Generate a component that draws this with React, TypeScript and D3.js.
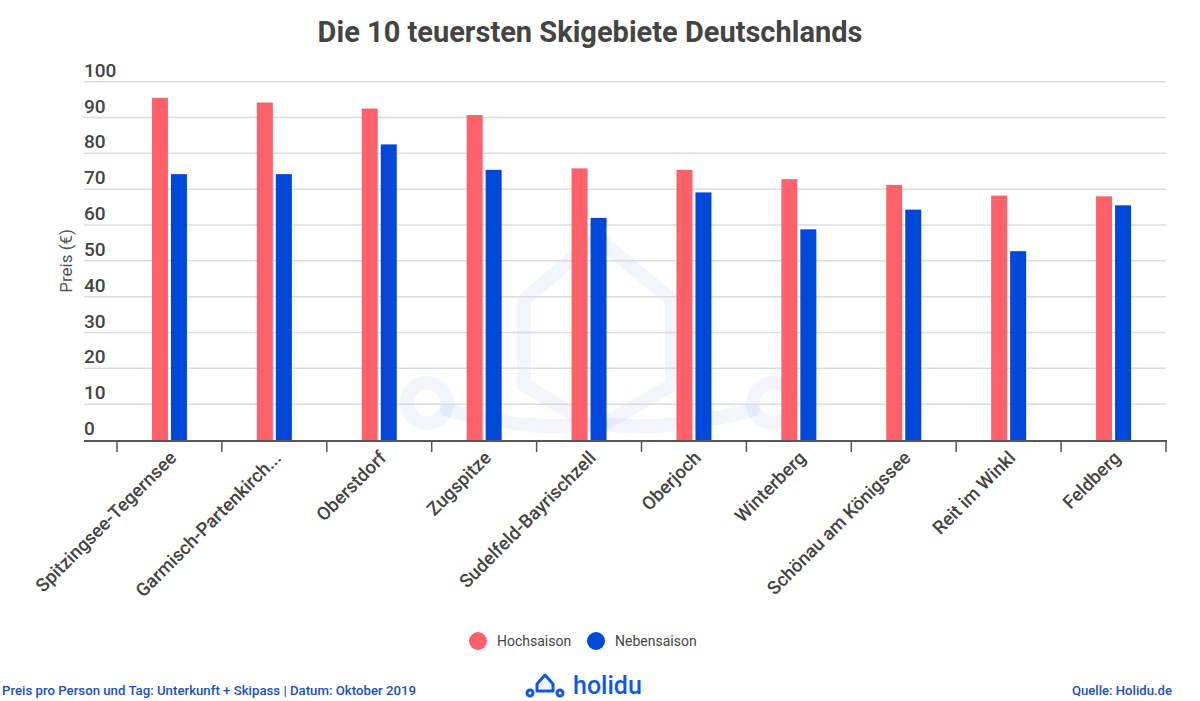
import React from "react";
import * as d3 from "d3";

const categories = [
  "Spitzingsee-Tegernsee",
  "Garmisch-Partenkirch...",
  "Oberstdorf",
  "Zugspitze",
  "Sudelfeld-Bayrischzell",
  "Oberjoch",
  "Winterberg",
  "Schönau am Königssee",
  "Reit im Winkl",
  "Feldberg",
];
const hochsaison = [95.5, 94.2, 92.5, 90.7, 75.8, 75.4, 72.8, 71.2, 68.2, 68.0];
const nebensaison = [74.2, 74.2, 82.5, 75.4, 62.0, 69.1, 58.8, 64.3, 52.7, 65.5];
const yTicks = [0, 10, 20, 30, 40, 50, 60, 70, 80, 90, 100];
const seriesNames = ["Hochsaison", "Nebensaison"];
const colors = ["#FF616B", "#0048D9"];

const W = 1200;
const H = 701;
const FONT = "Roboto, 'Noto Sans', sans-serif";

export default function App() {
  const x = d3.scaleBand<string>().domain(categories).range([117, 1166]).padding(0);
  const y = d3.scaleLinear().domain([0, 100]).range([440, 81.7]);
  const gridX0 = 84;
  const gridX1 = 1166;
  const barW = 16;
  const gap = 3;
  const boundaries = [...categories.map((c) => x(c) as number), 1166];

  return (
    <svg
      width={W}
      height={H}
      style={{ position: "absolute", left: 0, top: 0, background: "#fff" }}
      fontFamily={FONT}
    >
      <rect x={0} y={0} width={W} height={H} fill="#fff" />
      {/* watermark */}
      <g fill="none" stroke="#1f4fd8" strokeOpacity={0.06} strokeWidth={14} strokeLinejoin="round" strokeLinecap="round">
        <path d="M597,238 L524,300 L524,385 L597,428 L672,385 L672,300 Z" />
        <circle cx={427} cy={403} r={20} />
        <circle cx={773} cy={403} r={20} />
        <path d="M447,410 Q520,428 560,426 Q597,424 635,426 Q680,428 753,410" />
      </g>
      {/* title */}
      <text x={590} y={42} textAnchor="middle" fontSize={29} fontWeight={700} fill="#444">
        Die 10 teuersten Skigebiete Deutschlands
      </text>
      {/* grid */}
      {yTicks.map((t) => (
        <g key={t}>
          {t > 0 && (
            <line x1={gridX0} x2={gridX1} y1={y(t)} y2={y(t)} stroke="#dcdcdc" strokeWidth={1.5} />
          )}
          <text x={gridX0} y={y(t) - 5} fontSize={19} fontWeight={500} fill="#444">
            {t}
          </text>
        </g>
      ))}
      {/* y axis title */}
      <text
        transform={`translate(72,${(y(0) + y(100)) / 2}) rotate(-90)`}
        textAnchor="middle"
        fontSize={17}
        fill="#555"
      >
        Preis (€)
      </text>
      {/* bars */}
      {categories.map((c, i) => {
        const cx = (x(c) as number) + x.bandwidth() / 2;
        return (
          <g key={c}>
            <rect
              x={cx - gap / 2 - barW}
              y={y(hochsaison[i])}
              width={barW}
              height={y(0) - y(hochsaison[i])}
              fill={colors[0]}
            />
            <rect
              x={cx + gap / 2}
              y={y(nebensaison[i])}
              width={barW}
              height={y(0) - y(nebensaison[i])}
              fill={colors[1]}
            />
          </g>
        );
      })}
      {/* x axis */}
      <line x1={gridX0} x2={gridX1 + 1} y1={y(0) + 1} y2={y(0) + 1} stroke="#555" strokeWidth={2} />
      {boundaries.map((b, i) => (
        <line key={i} x1={b} x2={b} y1={y(0)} y2={y(0) + 12} stroke="#555" strokeWidth={1.5} />
      ))}
      {categories.map((c) => {
        const cx = (x(c) as number) + x.bandwidth() / 2;
        return (
          <text
            key={c}
            transform={`translate(${cx + 8},${y(0) + 19}) rotate(-45)`}
            textAnchor="end"
            fontSize={18.5}
            fontWeight={500}
            fill="#444"
          >
            {c}
          </text>
        );
      })}
      {/* legend */}
      {seriesNames.map((s, i) => {
        const lx = [478, 596][i];
        return (
          <g key={s}>
            <circle cx={lx} cy={641} r={9} fill={colors[i]} />
            <text x={lx + 19} y={646} fontSize={14} fill="#444">
              {s}
            </text>
          </g>
        );
      })}
      {/* footer */}
      <text x={2} y={695} fontSize={13} fontWeight={500} fill="#1a4fc4" textLength={414} lengthAdjust="spacingAndGlyphs">
        Preis pro Person und Tag:  Unterkunft + Skipass | Datum: Oktober 2019
      </text>
      <text x={1172} y={695} textAnchor="end" fontSize={13} fontWeight={500} fill="#1a4fc4" textLength={100} lengthAdjust="spacingAndGlyphs">
        Quelle: Holidu.de
      </text>
      {/* holidu logo */}
      <g stroke="#0e59e8" strokeWidth={3} fill="none" strokeLinecap="round" strokeLinejoin="round">
        <path d="M545,675 L537,684 L537,691 L553,691 L553,684 Z" />
        <circle cx={530} cy={693} r={3} />
        <circle cx={560} cy={693} r={3} />
      </g>
      <text x={573} y={694} fontSize={25} fontWeight={500} fill="#0e59e8">
        holidu
      </text>
    </svg>
  );
}
